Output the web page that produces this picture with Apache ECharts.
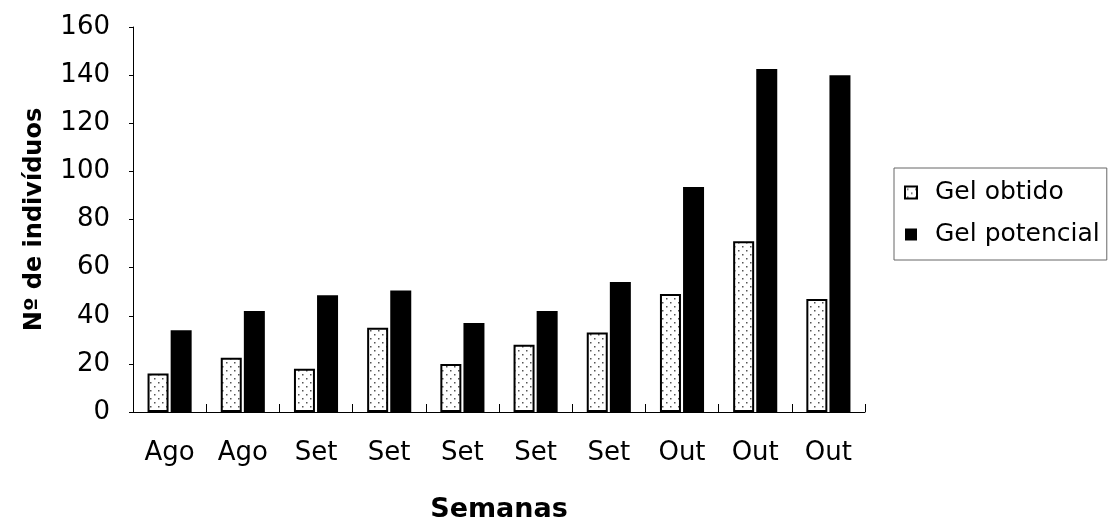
<!DOCTYPE html>
<html>
<head>
<meta charset="utf-8">
<script src="https://cdn.jsdelivr.net/npm/echarts@6/dist/echarts.min.js"></script>
<style>
  html, body { margin: 0; padding: 0; background: #fff; }
  #chart { width: 1116px; height: 523px; }
</style>
</head>
<body>
<div id="chart"></div>
<script>
// Weekly counts of individuals
const categories = ['Ago', 'Ago', 'Set', 'Set', 'Set', 'Set', 'Set', 'Out', 'Out', 'Out'];
const gelObtido = [16, 22.5, 18, 35, 20, 28, 33, 49, 71, 47];
const gelPotencial = [34, 42, 48.5, 50.5, 37, 42, 54, 93.5, 142.5, 140];
const seriesNames = ['Gel obtido', 'Gel potencial'];

// Dotted fill for the "obtido" bars
function dotPattern() {
  const c = document.createElement('canvas');
  c.width = 8; c.height = 8;
  const ctx = c.getContext('2d');
  ctx.fillStyle = '#ffffff';
  ctx.fillRect(0, 0, 8, 8);
  ctx.fillStyle = '#555555';
  ctx.fillRect(2, 2, 1.5, 1.5);
  ctx.fillRect(6, 6, 1.5, 1.5);
  return c;
}

const FONT = 'DejaVu Sans';
const chart = echarts.init(document.getElementById('chart'), null, { renderer: 'canvas' });

chart.setOption({
  backgroundColor: '#ffffff',
  animation: false,
  grid: { left: 133, right: 251, top: 27, bottom: 111, containLabel: false, outerBoundsMode: 'none' },
  legend: {
    orient: 'vertical',
    left: 894,
    top: 168,
    padding: [12, 7, 13, 10],
    itemGap: 17,
    itemWidth: 12,
    itemHeight: 12,
    icon: 'rect',
    borderColor: '#666666',
    borderWidth: 1,
    textStyle: { fontFamily: FONT, fontSize: 25, color: '#000', padding: [0, 0, 0, 13] },
    data: seriesNames
  },
  xAxis: {
    type: 'category',
    data: categories,
    boundaryGap: true,
    name: 'Semanas',
    nameLocation: 'middle',
    nameGap: 84,
    nameTextStyle: { fontFamily: FONT, fontSize: 27, fontWeight: 'bold', color: '#000' },
    axisLine: { show: true, lineStyle: { color: '#000', width: 1 } },
    axisTick: { show: true, inside: true, length: 8, alignWithLabel: false, lineStyle: { color: '#000' } },
    axisLabel: { interval: 0, margin: 28, fontFamily: FONT, fontSize: 26, color: '#000' },
    splitLine: { show: false }
  },
  yAxis: {
    type: 'value',
    min: 0,
    max: 160,
    interval: 20,
    name: 'Nº de indivíduos',
    nameLocation: 'middle',
    nameGap: 86,
    nameTextStyle: { fontFamily: FONT, fontSize: 24, fontWeight: 'bold', color: '#000' },
    axisLine: { show: true, lineStyle: { color: '#000', width: 1 } },
    axisTick: { show: true, inside: false, length: 4, lineStyle: { color: '#000' } },
    axisLabel: { margin: 23, fontFamily: FONT, fontSize: 26, color: '#000' },
    splitLine: { show: false }
  },
  series: [
    {
      name: seriesNames[0],
      type: 'bar',
      data: gelObtido,
      barWidth: 21,
      barGap: '10%',
      itemStyle: {
        color: { image: dotPattern(), repeat: 'repeat' },
        borderColor: '#000',
        borderWidth: 2
      }
    },
    {
      name: seriesNames[1],
      type: 'bar',
      data: gelPotencial,
      barWidth: 21,
      barGap: '10%',
      itemStyle: { color: '#000' }
    }
  ]
});
</script>
</body>
</html>
